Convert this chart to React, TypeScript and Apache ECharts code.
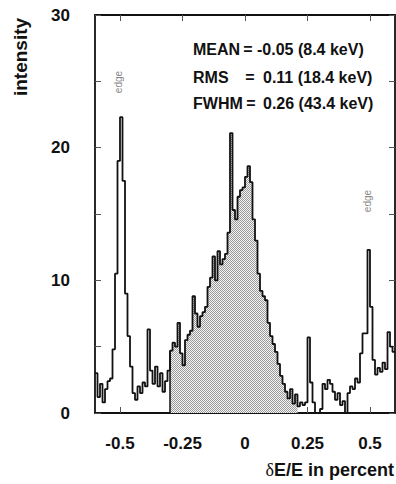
import React, { useEffect, useRef } from "react";
import * as echarts from "echarts";

// Histogram of relative energy deviation, bins of 0.01 % starting at -0.60 %
const BIN_START = -0.6;
const BIN_WIDTH = 0.01;
const counts: number[] = [
  3.0, 1.2, 2.2, 0.8, 1.8, 2.4, 2.6, 4.8, 10.5, 19.0,
  22.3, 17.5, 9.0, 5.8, 3.5, 1.5, 1.0, 2.0, 1.5, 2.3,
  2.0, 6.3, 3.2, 2.2, 3.5, 2.0, 3.0, 1.6, 2.4, 3.2,
  4.7, 5.3, 5.0, 6.8, 4.5, 3.6, 5.5, 5.9, 6.2, 8.8,
  7.5, 6.5, 7.3, 7.6, 8.0, 9.5, 10.2, 11.8, 10.0, 12.2,
  11.2, 11.6, 12.0, 13.6, 21.1, 15.3, 14.6, 16.3, 16.8, 17.0,
  17.8, 18.6, 17.4, 14.6, 13.0, 10.5, 9.2, 8.8, 8.5, 6.8,
  5.8, 5.2, 4.6, 3.7, 2.8, 2.2, 1.6, 1.1, 1.8, 0.7,
  1.4, 0.5, 0.8, 0.6, 0.8, 5.7, 2.3, 0.8, 0.0, 0.0,
  0.3, 2.2, 1.8, 2.5, 2.2, 1.6, 1.0, 1.5, 0.6, 0.9,
  0.0, 1.5, 2.0, 1.8, 2.6, 2.3, 4.5, 6.0, 6.0, 12.3,
  8.0, 4.0, 2.9, 3.4, 3.1, 3.8, 3.3, 6.1, 5.0, 4.6,
];

// Shaded region used for the FWHM / RMS evaluation
const FILL_FROM = -0.3;
const FILL_TO = 0.21;

const X_MIN = -0.6;
const X_MAX = 0.6;
const xTicks = [-0.5, -0.25, 0, 0.25, 0.5];
const yLabelValues = [0, 10, 20, 30];

const statNames = ["MEAN", "RMS", "FWHM"];
const statValues = ["-0.05", "0.11", "0.26"];
const statEnergies = ["(8.4 keV)", "(18.4 keV)", "(43.4 keV)"];

const edgeLabels = [
  { text: "edge", x: 118, y: 82 },
  { text: "edge", x: 367, y: 201 },
];

const FONT = "'Liberation Sans', Arial, Helvetica, sans-serif";

function makeCheckerPattern(): HTMLCanvasElement {
  const c = document.createElement("canvas");
  c.width = 2;
  c.height = 2;
  const ctx = c.getContext("2d")!;
  ctx.fillStyle = "#f4f4f4";
  ctx.fillRect(0, 0, 2, 2);
  ctx.fillStyle = "#9a9a9a";
  ctx.fillRect(0, 0, 1, 1);
  ctx.fillRect(1, 1, 1, 1);
  return c;
}

export default function App() {
  const ref = useRef<HTMLDivElement>(null);

  useEffect(() => {
    if (!ref.current) return;
    const chart = echarts.init(ref.current, null, { renderer: "svg" });

    const edges = counts.map((_, i) => Math.round((BIN_START + i * BIN_WIDTH) * 1000) / 1000);
    const lineData: [number, number][] = counts.map((c, i) => [edges[i], c]);
    lineData.push([X_MAX, counts[counts.length - 1]]);

    const fillData: [number, number][] = [];
    edges.forEach((e, i) => {
      if (e >= FILL_FROM - 1e-9 && e <= FILL_TO + 1e-9) fillData.push([e, counts[i]]);
    });
    const fillStartValue = fillData.length ? fillData[0][1] : 0;

    // Statistics block: name, "=", then number with its energy equivalent
    const stats: any[] = [];
    const rowY = [49, 77, 103];
    const valueX = [257, 263, 263];
    const eqX = [248, 250, 251];
    statNames.forEach((n, i) => {
      const common = { fontSize: 16, fontWeight: "bold", fontFamily: FONT, fill: "#111", verticalAlign: "middle" };
      stats.push({ type: "text", x: 193, y: rowY[i], style: { ...common, text: n, align: "left" } });
      stats.push({ type: "text", x: eqX[i], y: rowY[i], style: { ...common, text: "=", align: "center" } });
      stats.push({
        type: "text",
        x: valueX[i],
        y: rowY[i],
        style: { ...common, text: `${statValues[i]} ${statEnergies[i]}`, align: "left" },
      });
    });

    const axisLine = { show: true, onZero: false, lineStyle: { color: "#111", width: 1.8 } };
    const tickStyle = { lineStyle: { color: "#555", width: 1 } };

    chart.setOption({
      animation: false,
      grid: { left: 95, right: 1, top: 15, bottom: 71, containLabel: false },
      xAxis: [
        {
          type: "value",
          min: X_MIN,
          max: X_MAX,
          position: "bottom",
          axisLine,
          axisTick: { show: true, inside: true, length: 6, customValues: xTicks, ...tickStyle },
          axisLabel: {
            customValues: xTicks,
            margin: 22,
            fontSize: 17,
            fontWeight: "bold",
            fontFamily: FONT,
            color: "#111",
            formatter: (v: number) => String(v),
          },
          splitLine: { show: false },
        },
        {
          type: "value",
          min: X_MIN,
          max: X_MAX,
          position: "top",
          axisLine,
          axisTick: { show: true, inside: true, length: 6, customValues: xTicks, ...tickStyle },
          axisLabel: { show: false },
          splitLine: { show: false },
        },
      ],
      yAxis: [
        {
          type: "value",
          min: 0,
          max: 30,
          interval: 5,
          position: "left",
          axisLine,
          axisTick: { show: true, inside: true, length: 6, ...tickStyle },
          axisLabel: {
            customValues: yLabelValues,
            margin: 25,
            fontSize: 17,
            fontWeight: "bold",
            fontFamily: FONT,
            color: "#111",
          },
          splitLine: { show: false },
        },
        {
          type: "value",
          min: 0,
          max: 30,
          interval: 5,
          position: "right",
          axisLine,
          axisTick: { show: true, inside: true, length: 6, ...tickStyle },
          axisLabel: { show: false },
          splitLine: { show: false },
        },
      ],
      series: [
        {
          type: "line",
          step: "end",
          data: fillData,
          symbol: "none",
          lineStyle: { width: 0, opacity: 0 },
          areaStyle: { color: { image: makeCheckerPattern(), repeat: "repeat" } as any, opacity: 1 },
          markLine: {
            silent: true,
            symbol: "none",
            label: { show: false },
            lineStyle: { color: "#111", width: 1.5, type: "solid" },
            data: [[{ coord: [FILL_FROM, 0] }, { coord: [FILL_FROM, fillStartValue] }]],
          },
          z: 1,
        },
        {
          type: "line",
          step: "end",
          data: lineData,
          symbol: "none",
          lineStyle: { color: "#111", width: 1.8 },
          z: 2,
        },
      ],
      graphic: [
        {
          type: "text",
          x: 20,
          y: 57,
          rotation: Math.PI / 2,
          style: {
            text: "intensity",
            fontSize: 19,
            fontWeight: "bold",
            fontFamily: FONT,
            fill: "#111",
            align: "center",
            verticalAlign: "middle",
          },
        },
        {
          type: "text",
          x: 394,
          y: 470,
          style: {
            text: "{d|δ}E/E in percent",
            fontSize: 18,
            fontWeight: "bold",
            fontFamily: FONT,
            fill: "#111",
            align: "right",
            verticalAlign: "middle",
            rich: {
              d: { fontSize: 18, fontWeight: "normal", fontFamily: "'Liberation Serif', 'DejaVu Serif', serif", fill: "#111" },
            },
          },
        },
        ...edgeLabels.map((e) => ({
          type: "text",
          x: e.x,
          y: e.y,
          rotation: Math.PI / 2,
          style: {
            text: e.text,
            fontSize: 10,
            fontFamily: FONT,
            fill: "#8a8a8a",
            align: "center",
            verticalAlign: "middle",
          },
        })),
        ...stats,
      ],
    });

    return () => chart.dispose();
  }, []);

  return (
    <div
      ref={ref}
      style={{ position: "fixed", left: 0, top: 0, width: 396, height: 484, background: "#fff" }}
    />
  );
}
